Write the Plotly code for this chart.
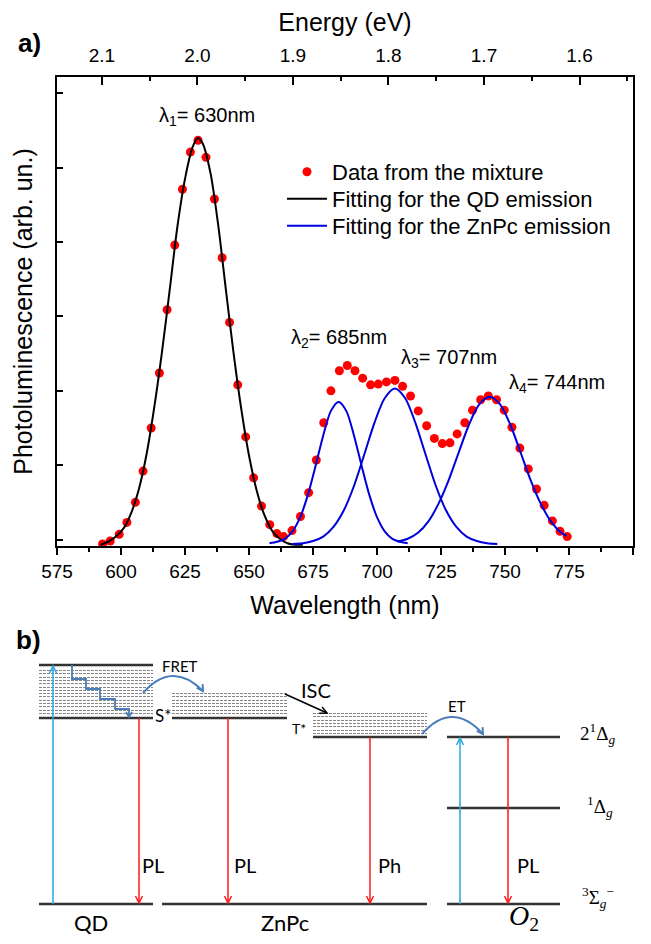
import math
import plotly.graph_objects as go

# ---------------- data ----------------
wavelength_nm = [592.8, 595.8, 599.3, 602.3, 605.6, 608.6, 611.8, 615.0, 618.0, 621.0,
                 624.0, 627.1, 630.1, 633.2, 636.5, 639.5, 642.4, 645.6, 648.7, 651.8,
                 654.9, 658.1, 660.9, 663.5, 666.8, 670.1, 673.3, 676.3, 679.2, 682.0,
                 685.3, 688.4, 691.4, 694.4, 697.5, 700.5, 703.7, 707.0, 710.0, 713.1,
                 716.1, 719.4, 722.4, 725.5, 728.5, 731.3, 734.3, 737.3, 740.5, 743.5,
                 746.7, 749.7, 752.7, 755.8, 759.1, 762.3, 765.3, 768.5, 771.5, 774.3]
pl_mixture = [-0.06, -0.02, 0.07, 0.23, 0.50, 0.92, 1.50, 2.24, 3.09, 3.96,
              4.71, 5.21, 5.37, 5.14, 4.58, 3.79, 2.92, 2.08, 1.38, 0.83,
              0.45, 0.20, 0.08, 0.04, 0.12, 0.31, 0.63, 1.07, 1.57, 2.00,
              2.27, 2.34, 2.27, 2.17, 2.08, 2.09, 2.12, 2.14, 2.06, 1.93,
              1.73, 1.53, 1.36, 1.29, 1.30, 1.42, 1.57, 1.74, 1.88, 1.93,
              1.88, 1.74, 1.51, 1.23, 0.95, 0.68, 0.46, 0.25, 0.11, 0.04]

qd_fit_nm = [592, 595, 598, 601, 604, 607, 610, 613, 616, 619, 622, 625, 628, 630,
             632, 635, 638, 641, 644, 647, 650, 653, 656, 659, 662, 665, 668, 671]
qd_fit_pl = [-0.07, -0.03, 0.04, 0.15, 0.36, 0.68, 1.15, 1.78, 2.52, 3.35, 4.20, 4.85, 5.28, 5.40,
             5.32, 4.92, 4.22, 3.35, 2.50, 1.75, 1.13, 0.66, 0.33, 0.12, 0.01, -0.05, -0.07, -0.07]

znpc_685_nm = [658, 661, 664, 667, 670, 673, 676, 679, 682, 685, 688, 691, 694, 697, 700, 703, 706, 709, 712]
znpc_685_pl = [-0.05, -0.03, 0.01, 0.11, 0.30, 0.60, 0.99, 1.40, 1.73, 1.85, 1.73, 1.40, 0.99, 0.60,
               0.30, 0.11, 0.01, -0.03, -0.05]

znpc_707_nm = [667, 671, 675, 679, 683, 687, 691, 695, 699, 703, 707, 711, 715, 719, 723, 727,
               731, 735, 739, 743, 747]
znpc_707_pl = [-0.06, -0.05, -0.02, 0.04, 0.17, 0.39, 0.72, 1.14, 1.57, 1.90, 2.03, 1.90, 1.57,
               1.14, 0.72, 0.39, 0.17, 0.04, -0.02, -0.05, -0.06]

znpc_744_nm = [708, 712, 716, 720, 724, 728, 732, 736, 740, 744, 748, 752, 756, 760, 764, 768, 772, 774]
znpc_744_pl = [-0.03, 0.01, 0.09, 0.24, 0.48, 0.80, 1.18, 1.55, 1.82, 1.92, 1.82, 1.55, 1.18, 0.80,
               0.48, 0.24, 0.09, 0.05]

peak_labels = ["λ<sub>1</sub>= 630nm", "λ<sub>2</sub>= 685nm", "λ<sub>3</sub>= 707nm", "λ<sub>4</sub>= 744nm"]
peak_label_x = [633.6, 685.3, 728.0, 770.5]
peak_label_y = [5.69, 2.70, 2.43, 2.10]

wl_ticks = [575, 600, 625, 650, 675, 700, 725, 750, 775, 800]
energy_ticks = [2.1, 2.0, 1.9, 1.8, 1.7, 1.6]
energy_ticklabels = ["2.1", "2.0", "1.9", "1.8", "1.7", "1.6"]
pl_ticks = [0, 1, 2, 3, 4, 5, 6]

legend_names = ["Data from the mixture", "Fitting for the QD emission", "Fitting for the ZnPc emission"]

# ---------------- geometry (reference pixels; page body has an 8px margin) ----------------
PAGE_W, PAGE_H = 651, 944
OFF = 8
W, H = PAGE_W - 2 * OFF, PAGE_H - 2 * OFF


def fx(px):
    return (px - OFF) / W


def fy(py):
    return 1 - (py - OFF) / H


SANS = "Arial, Liberation Sans, sans-serif"
CAL = "Lato, Carlito, Open Sans, sans-serif"
SERIF = "Times New Roman, Liberation Serif, serif"

px_left, px_right, px_top, px_bottom = 57, 633, 77, 546
x_dom = [fx(px_left), fx(px_right)]
y_dom = [fy(px_bottom), fy(px_top)]

diag_top_frac = 0.36
diag_top_px = OFF + H * (1 - diag_top_frac)
diag_bot_px = OFF + H

fig = go.Figure()

fig.add_trace(go.Scatter(x=wavelength_nm, y=pl_mixture, mode="markers", name=legend_names[0],
                         legend="legend",
                         marker=dict(color="#ff0000", size=9, line=dict(width=0))))
fig.add_trace(go.Scatter(x=qd_fit_nm, y=qd_fit_pl, mode="lines", name=legend_names[1],
                         legend="legend2",
                         line=dict(color="black", width=2, shape="spline", smoothing=0.8)))
for i, (xs, ys) in enumerate([(znpc_685_nm, znpc_685_pl), (znpc_707_nm, znpc_707_pl),
                              (znpc_744_nm, znpc_744_pl)]):
    fig.add_trace(go.Scatter(x=xs, y=ys, mode="lines", name=legend_names[2],
                             showlegend=(i == 0), legendgroup="znpc", legend="legend3",
                             line=dict(color="#0000dd", width=2, shape="spline", smoothing=0.8)))

# invisible helpers so that the secondary axes exist
fig.add_trace(go.Scatter(x=[2.0], y=[0], xaxis="x2", yaxis="y", mode="markers",
                         marker=dict(opacity=0), showlegend=False, hoverinfo="skip"))
fig.add_trace(go.Scatter(x=[20], y=[930], xaxis="x3", yaxis="y3", mode="markers",
                         marker=dict(opacity=0), showlegend=False, hoverinfo="skip"))

annotations = []
for t, x, y in zip(peak_labels, peak_label_x, peak_label_y):
    annotations.append(dict(x=x, y=y, xref="x", yref="y", text=t, showarrow=False,
                            font=dict(family=SANS, size=20, color="black")))

annotations.append(dict(x=fx(29), y=fy(43), xref="paper", yref="paper", text="<b>a)</b>",
                        xanchor="center", yanchor="middle",
                        showarrow=False, font=dict(family=SANS, size=26)))

# ---------------- panel b: energy diagram (reference pixel coordinates on x3/y3) ----------------
shapes = []
LEVEL = "#333333"
CYAN = "#2aa7df"
RED = "#ff1a1a"
STEEL = "#4a7ebb"


def hline(x0, x1, y, color=LEVEL, width=2.5, dash="solid"):
    shapes.append(dict(type="line", xref="x3", yref="y3", x0=x0, x1=x1, y0=y, y1=y,
                       line=dict(color=color, width=width, dash=dash)))


def band(x0, x1, y0, y1, n):
    step = (y1 - y0) / (n - 1)
    for k in range(n):
        hline(x0, x1, round(y0 + k * step) + 0.5, color="#868686", width=1, dash="3px,1px")


def vhead(x1, y1, ux, uy, color, width, L=7, hw=3.5):
    bx, by = x1 - ux * L, y1 - uy * L
    nx, ny = -uy, ux
    shapes.append(dict(type="path", xref="x3", yref="y3",
                       path=f"M {bx + nx * hw:.2f},{by + ny * hw:.2f} L {x1:.2f},{y1:.2f} "
                            f"L {bx - nx * hw:.2f},{by - ny * hw:.2f}",
                       line=dict(color=color, width=width)))


def arrow(x0, y0, x1, y1, color, width=1.5, L=7, hw=3.5):
    shapes.append(dict(type="line", xref="x3", yref="y3", x0=x0, y0=y0, x1=x1, y1=y1,
                       line=dict(color=color, width=width)))
    d = math.hypot(x1 - x0, y1 - y0)
    vhead(x1, y1, (x1 - x0) / d, (y1 - y0) / d, color, width, L, hw)


def label(x, y, text, size, family=CAL, color="black"):
    annotations.append(dict(x=x, y=y, xref="x3", yref="y3", text=text, showarrow=False,
                            font=dict(family=family, size=size, color=color)))


# QD
band(39, 153, 670, 713, 14)
hline(39, 153, 665)
hline(39, 153, 718)
hline(39, 153, 904)
# ZnPc
band(172, 287, 693, 713, 7)
hline(172, 287, 718)
hline(162, 427, 904)
# T*
band(313, 427, 713, 733, 7)
hline(313, 427, 737)
# O2
hline(447, 560, 737)
hline(447, 560, 808)
hline(447, 560, 904)

# staircase relaxation
shapes.append(dict(type="path", xref="x3", yref="y3",
                   path="M 72,665 L 72,679 L 86,679 L 86,689 L 100,689 L 100,699 L 115,699 L 115,709 L 129,709 L 129,717",
                   line=dict(color=STEEL, width=1.8)))
vhead(129, 717, 0, 1, STEEL, 1.8, L=5, hw=3)
# FRET and ET arcs
shapes.append(dict(type="path", xref="x3", yref="y3", path="M 143,693 Q 172,660 203,691",
                   line=dict(color=STEEL, width=2)))
vhead(203, 691, 0.55, 0.83, STEEL, 2, L=6, hw=3.5)
shapes.append(dict(type="path", xref="x3", yref="y3", path="M 422,734 Q 452,700 483,734",
                   line=dict(color=STEEL, width=2)))
vhead(483, 734, 0.55, 0.83, STEEL, 2, L=6, hw=3.5)

# vertical transitions
arrow(53, 904, 53, 666, CYAN, width=1.5)
arrow(139, 718, 139, 903, RED, width=1.5)
arrow(228, 718, 228, 903, RED, width=1.5)
arrow(370, 737, 370, 903, RED, width=1.5)
arrow(460, 904, 460, 738, CYAN, width=1.5)
arrow(508, 737, 508, 903, RED, width=1.5)
# ISC
arrow(285, 694, 327, 713, "black", width=1.5)

# diagram texts
label(28, 640, "<b>b)</b>", 26, family=SANS)
label(180, 666, "FRET", 15)
label(163, 715, "S*", 17)
label(316, 690, "ISC", 20)
label(299, 728, "T*", 14)
label(457, 706, "ET", 15)
label(153, 865, "PL", 20)
label(245, 865, "PL", 20)
label(389, 865, "Ph", 20)
label(528, 865, "PL", 20)
label(91, 922, "QD", 22)
label(285, 922, "ZnPc", 22)
label(524, 917, "<i>O</i><sub>2</sub>", 28, family=SERIF)
label(597, 733, "2<sup>1</sup>Δ<sub><i>g</i></sub>", 19, family=SERIF)
label(600, 806, "<sup>1</sup>Δ<sub><i>g</i></sub>", 19, family=SERIF)
label(598, 897, "<sup>3</sup>Σ<sub><i>g</i></sub><sup>−</sup>", 19, family=SERIF)


def legend_box(row_center_px):
    return dict(x=fx(282), xanchor="left", y=fy(row_center_px - 21), yanchor="top",
                font=dict(family=SANS, size=22, color="black"),
                bgcolor="rgba(0,0,0,0)", borderwidth=0, itemwidth=40, tracegroupgap=0)


fig.update_layout(
    template="none",
    width=W, height=H,
    margin=dict(l=0, r=0, t=0, b=0, autoexpand=False),
    paper_bgcolor="white",
    plot_bgcolor="rgba(0,0,0,0)",
    font=dict(family=SANS, color="black"),
    showlegend=True,
    legend=legend_box(172),
    legend2=legend_box(199),
    legend3=legend_box(226),
    xaxis=dict(domain=x_dom, range=[575, 800], tickvals=wl_ticks, ticks="outside", ticklen=7,
               tickwidth=1.5, tickcolor="black", showline=True, linecolor="black", linewidth=1.5,
               mirror=True, showgrid=False, zeroline=False, automargin=False,
               tickfont=dict(family=SANS, size=19), ticklabelstandoff=0,
               minor=dict(dtick=12.5, tick0=575, ticks="outside", ticklen=4, tickwidth=1.5,
                          tickcolor="black", showgrid=False),
               title=dict(text="Wavelength (nm)", font=dict(family=SANS, size=25), standoff=16),
               anchor="y"),
    xaxis2=dict(domain=x_dom, range=[2.147, 1.544], overlaying="x", side="top", anchor="y",
                tickvals=energy_ticks, ticktext=energy_ticklabels, ticks="inside", ticklen=8,
                tickwidth=1.5, tickcolor="black", showline=True, linecolor="black", linewidth=1.5,
                showgrid=False, zeroline=False, automargin=False,
                tickfont=dict(family=SANS, size=19),
                minor=dict(tickvals=[2.05, 1.95, 1.85, 1.75, 1.65, 1.55], ticks="inside", ticklen=4,
                           tickwidth=1.5, tickcolor="black", showgrid=False),
                ticklabelstandoff=6,
                title=dict(text="Energy (eV)", font=dict(family=SANS, size=25), standoff=6)),
    yaxis=dict(domain=y_dom, range=[-0.087, 6.22], tickvals=pl_ticks, ticks="inside", ticklen=6,
               tickwidth=1.5, tickcolor="black", showticklabels=False, showline=True,
               linecolor="black", linewidth=1.5, mirror=True, showgrid=False, zeroline=False,
               automargin=False,
               title=dict(text="Photoluminescence (arb. un.)", font=dict(family=SANS, size=25),
                          standoff=16)),
    xaxis3=dict(domain=[0, 1], range=[OFF, OFF + W], visible=False, anchor="y3", automargin=False),
    yaxis3=dict(domain=[0, diag_top_frac], range=[diag_bot_px, diag_top_px], visible=False,
                anchor="x3", automargin=False),
    shapes=shapes,
    annotations=annotations,
)

fig.write_html("out.html")
